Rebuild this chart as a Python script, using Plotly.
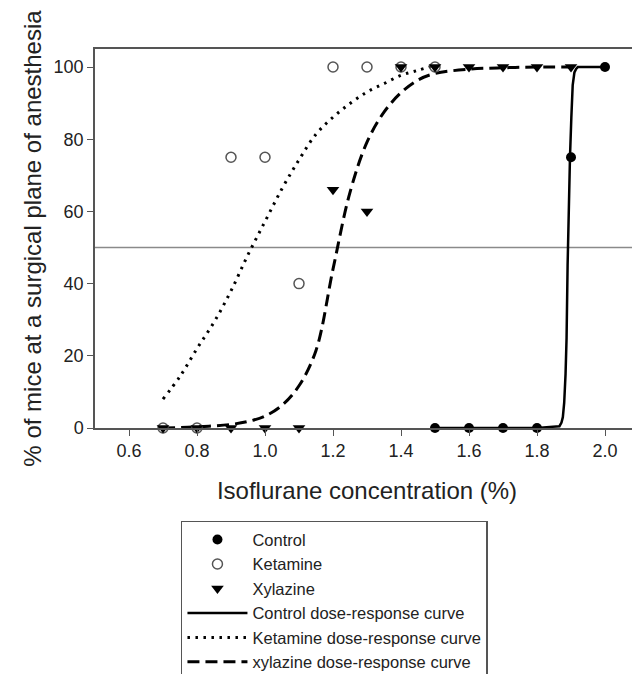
import plotly.graph_objects as go

# ---- data ----
control_x = [1.5, 1.6, 1.7, 1.8, 1.9, 2.0]
control_y = [0, 0, 0, 0, 75, 100]
ketamine_x = [0.7, 0.8, 0.9, 1.0, 1.1, 1.2, 1.3, 1.4, 1.5]
ketamine_y = [0, 0, 75, 75, 40, 100, 100, 100, 100]
xylazine_x = [0.7, 0.8, 0.9, 1.0, 1.1, 1.2, 1.3, 1.4, 1.5, 1.6, 1.7, 1.8, 1.9]
xylazine_y = [0, 0, 0, 0, 0, 66, 60, 100, 100, 100, 100, 100, 100]

control_curve_x = [1.5, 1.6, 1.7, 1.8, 1.866, 1.872, 1.876, 1.88, 1.884, 1.887, 1.89,
                   1.893, 1.897, 1.901, 1.905, 1.91, 1.915, 1.92, 2.0]
control_curve_y = [0, 0, 0, 0, 0.5, 1.5, 3, 7, 15, 25, 45, 60, 75, 86, 95, 98.5, 99.5, 100, 100]

ketamine_curve_x = [0.70, 0.75, 0.80, 0.85, 0.90, 0.95, 1.00, 1.05, 1.10, 1.15, 1.20,
                    1.25, 1.30, 1.35, 1.40, 1.45, 1.50]
ketamine_curve_y = [8, 14.3, 22, 29.3, 38, 48, 57.2, 66.3, 74.3, 81.4, 86.1,
                    89.9, 93.1, 95.4, 97.7, 99.1, 100.5]

xylazine_curve_x = [0.70, 0.80, 0.90, 0.95, 1.00, 1.05, 1.10, 1.15, 1.20, 1.25, 1.30,
                    1.35, 1.40, 1.45, 1.50, 1.60, 1.70, 1.80, 1.90]
xylazine_curve_y = [0, 0.3, 1, 1.8, 3.3, 6.3, 11.7, 21.5, 44, 65.3, 79.2,
                    87.5, 92.9, 96.4, 98.2, 99.4, 99.8, 100, 100]

half_line = 50
x_ticks = [0.6, 0.8, 1.0, 1.2, 1.4, 1.6, 1.8, 2.0]
y_ticks = [0, 20, 40, 60, 80, 100]

FONT = "Liberation Sans, Arial, sans-serif"
INK = "#222222"
AXIS = "#555555"

fig = go.Figure()

# curves (drawn first, listed last in the legend)
fig.add_trace(go.Scatter(x=control_curve_x, y=control_curve_y, mode="lines",
                         name="Control dose-response curve", legendrank=4,
                         line=dict(color="black", width=2.5, dash="solid")))
fig.add_trace(go.Scatter(x=ketamine_curve_x, y=ketamine_curve_y, mode="lines",
                         name="Ketamine dose-response curve", legendrank=5, line_shape="spline",
                         line=dict(color="black", width=3, dash="2.5px,5.5px")))
fig.add_trace(go.Scatter(x=xylazine_curve_x, y=xylazine_curve_y, mode="lines",
                         name="xylazine dose-response curve", legendrank=6, line_shape="spline",
                         line=dict(color="black", width=3, dash="12px,6px")))

# data points
fig.add_trace(go.Scatter(x=control_x, y=control_y, mode="markers", name="Control", legendrank=1,
                         cliponaxis=False,
                         marker=dict(symbol="circle", size=10, color="black")))
fig.add_trace(go.Scatter(x=ketamine_x, y=ketamine_y, mode="markers", name="Ketamine", legendrank=2,
                         cliponaxis=False,
                         marker=dict(symbol="circle-open", size=10, color="#555555",
                                     line=dict(width=1.5, color="#555555"))))
fig.add_trace(go.Scatter(x=xylazine_x, y=xylazine_y, mode="markers", name="Xylazine", legendrank=3,
                         cliponaxis=False,
                         marker=dict(symbol="triangle-down", size=11, color="black")))

fig.add_hline(y=half_line, line=dict(color="#8a8a8a", width=1.5), layer="below")

fig.update_layout(
    width=632, height=666,
    margin=dict(l=87, r=1, t=41, b=246, autoexpand=False),
    paper_bgcolor="white", plot_bgcolor="white",
    font=dict(family=FONT, color=INK),
    showlegend=True,
    legend=dict(x=0.158, y=-0.245, xanchor="left", yanchor="top",
                bordercolor=AXIS, borderwidth=1.5, bgcolor="white",
                font=dict(size=16.5, family=FONT, color=INK),
                itemwidth=60, tracegroupgap=0),
)
fig.update_xaxes(range=[0.5, 2.1], tickvals=x_ticks, tickformat=".1f",
                 showgrid=False, zeroline=False, automargin=False,
                 showline=True, linecolor=AXIS, linewidth=1.5, mirror=True,
                 ticks="outside", ticklen=6, tickwidth=1.2, tickcolor=AXIS,
                 tickfont=dict(size=18, family=FONT, color=INK),
                 title=dict(text="Isoflurane concentration (%)", standoff=22,
                            font=dict(size=24, family=FONT, color=INK)))
fig.update_yaxes(range=[0, 105], tickvals=y_ticks,
                 showgrid=False, zeroline=False, automargin=False,
                 showline=True, linecolor=AXIS, linewidth=1.5, mirror=True,
                 ticks="outside", ticklen=6, tickwidth=1.2, tickcolor=AXIS,
                 tickfont=dict(size=18, family=FONT, color=INK),
                 title=dict(text="% of mice at a surgical plane of anesthesia", standoff=5,
                            font=dict(size=24, family=FONT, color=INK)))

fig.write_html("out.html")
